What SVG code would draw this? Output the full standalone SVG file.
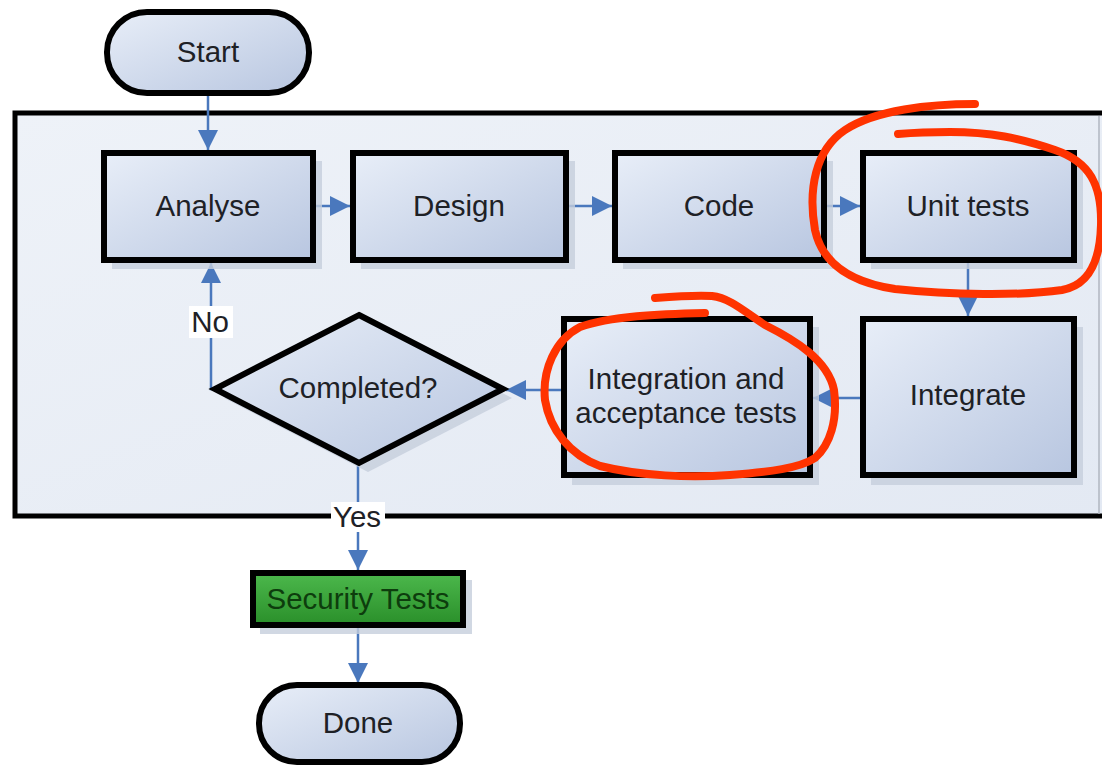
<svg xmlns="http://www.w3.org/2000/svg" width="1102" height="767" viewBox="0 0 1102 767">
<style>
.box{fill:url(#gBox);stroke:#000;stroke-width:6}
.sh{fill:#c5cedc;opacity:0.8}
.t{font-family:"Liberation Sans",Arial,sans-serif;font-size:29.5px;fill:#1e2126;text-anchor:middle}
.c{stroke:#4a78bd;stroke-width:2.5;fill:none}
.red{stroke:#ff3300;stroke-width:8;fill:none;stroke-linecap:round;stroke-linejoin:round}
.lbl{fill:#ffffff}
</style>
<defs>
<linearGradient id="gBox" x1="0" y1="0" x2="1" y2="1">
<stop offset="0" stop-color="#e8eef8"/>
<stop offset="1" stop-color="#b8c6e0"/>
</linearGradient>
<linearGradient id="gCont" x1="0" y1="0" x2="1" y2="1">
<stop offset="0" stop-color="#eef2f8"/>
<stop offset="1" stop-color="#e3e9f3"/>
</linearGradient>
<linearGradient id="gGreen" x1="0" y1="0" x2="0" y2="1">
<stop offset="0" stop-color="#4cb84c"/>
<stop offset="1" stop-color="#2a8f2a"/>
</linearGradient>
<marker id="ah2" viewBox="0 0 10 10" refX="10" refY="5" markerWidth="8" markerHeight="8" orient="auto">
<path d="M0,0 L10,5 L0,10 z" fill="#4a78bd"/>
</marker>
</defs>
<rect x="0" y="0" width="1102" height="767" fill="#ffffff"/>

<g id="container">
<rect x="15" y="113" width="1092" height="403" fill="url(#gCont)" stroke="#000" stroke-width="5"/>
<line x1="1099" y1="116" x2="1099" y2="514" stroke="#b0b6c0" stroke-width="1.5"/>
</g>

<g id="connectors">
<line class="c" x1="208" y1="95" x2="208" y2="150" marker-end="url(#ah2)"/>
<line class="c" x1="315" y1="206" x2="350" y2="206" marker-end="url(#ah2)"/>
<line class="c" x1="569" y1="206" x2="612" y2="206" marker-end="url(#ah2)"/>
<line class="c" x1="826" y1="206" x2="860" y2="206" marker-end="url(#ah2)"/>
<line class="c" x1="968" y1="262" x2="968" y2="316" marker-end="url(#ah2)"/>
<line class="c" x1="862" y1="398" x2="813" y2="398" marker-end="url(#ah2)"/>
<line class="c" x1="562" y1="390" x2="506" y2="390" marker-end="url(#ah2)"/>
<polyline class="c" points="215,389 211,389 211,263" marker-end="url(#ah2)"/>
<line class="c" x1="358" y1="464" x2="358" y2="570" marker-end="url(#ah2)"/>
<line class="c" x1="358" y1="627" x2="358" y2="683" marker-end="url(#ah2)"/>
<rect class="lbl" x="189" y="306" width="44" height="32" fill="#f4f6fa"/>
<text class="t" x="210" y="332">No</text>
<rect class="lbl" x="331" y="502" width="54" height="30"/>
<text class="t" x="357" y="527">Yes</text>
</g>

<g id="start">
<rect x="107" y="12" width="202" height="81" rx="40" class="box"/>
<text class="t" x="208" y="62">Start</text>
</g>

<g id="analyse">
<rect class="sh" x="112" y="161" width="210" height="108"/>
<rect x="104" y="153" width="209" height="107" class="box"/>
<text class="t" x="208" y="216">Analyse</text>
</g>

<g id="design">
<rect class="sh" x="361" y="161" width="214" height="108"/>
<rect x="353" y="153" width="213" height="107" class="box"/>
<text class="t" x="459" y="216">Design</text>
</g>

<g id="code">
<rect class="sh" x="623" y="161" width="210" height="108"/>
<rect x="615" y="153" width="209" height="107" class="box"/>
<text class="t" x="719" y="216">Code</text>
</g>

<g id="unit-tests">
<rect class="sh" x="871" y="161" width="212" height="108"/>
<rect x="863" y="153" width="211" height="107" class="box"/>
<text class="t" x="968" y="216">Unit tests</text>
</g>

<g id="integrate">
<rect class="sh" x="871" y="327" width="212" height="158"/>
<rect x="863" y="319" width="211" height="156" class="box"/>
<text class="t" x="968" y="405">Integrate</text>
</g>

<g id="integration-tests">
<rect class="sh" x="572" y="327" width="247" height="158"/>
<rect x="564" y="319" width="246" height="156" class="box"/>
<text class="t" x="686" y="389">Integration and</text>
<text class="t" x="686" y="423">acceptance tests</text>
</g>

<g id="completed">
<polygon points="368,324 512,398 368,472 224,398" class="sh"/>
<polygon points="359,315 503,389 359,463 215,389" class="box"/>
<text class="t" x="358" y="398">Completed?</text>
</g>

<g id="security-tests">
<rect class="sh" x="260" y="580" width="212" height="54"/>
<rect x="253" y="573" width="210" height="52" fill="url(#gGreen)" stroke="#000" stroke-width="6"/>
<text class="t" x="358" y="609" style="fill:#0d3d0d">Security Tests</text>
</g>

<g id="done">
<rect x="259" y="685" width="201" height="77" rx="38" class="box"/>
<text class="t" x="358" y="733">Done</text>
</g>

<g id="annotations">
<path class="red" d="M975,104 C930,104 875,110 845,130 C815,150 808,190 815,230 C822,262 848,282 895,289 C950,295 1020,296 1062,290 C1090,285 1100,260 1101,225 C1102,185 1090,162 1055,150 C1020,138 990,132 950,132 C925,132 910,133 898,134"/>
<path class="red" d="M655,298 C680,296 700,295 712,296 C730,298 745,312 765,325 C795,340 828,360 834,390 C838,420 830,445 815,458 C800,468 770,472 730,475 C690,478 640,476 600,466 C570,455 550,430 545,400 C542,370 555,340 580,327 C610,316 660,314 705,313"/>
</g>
</svg>
